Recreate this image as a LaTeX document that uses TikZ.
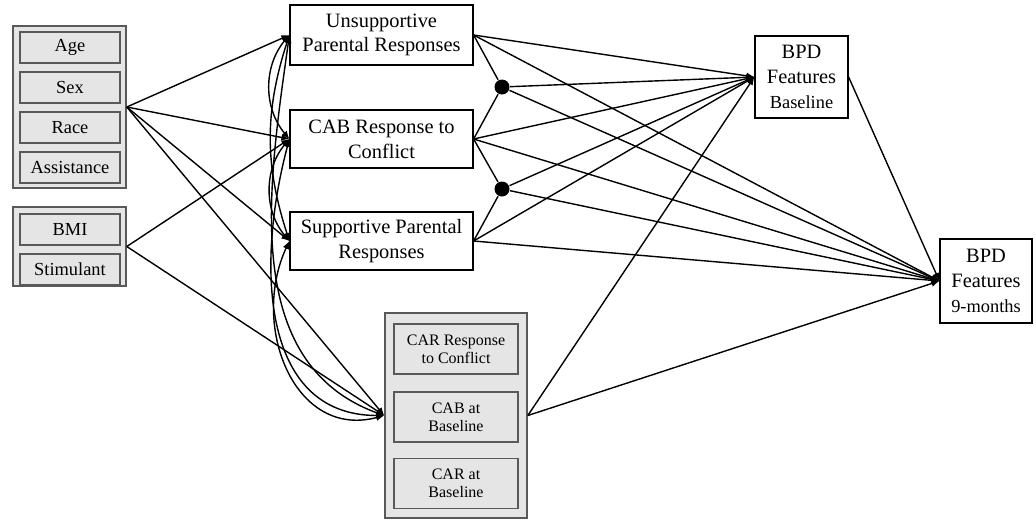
\documentclass[tikz,border=0pt]{standalone}
\usepackage{fontspec}
\setmainfont{Liberation Serif}
\usetikzlibrary{arrows.meta}

\begin{document}
\begin{tikzpicture}[x=0.5pt,y=-0.5pt,>={Latex[length=4pt,width=3.4pt]},line width=0.7pt]
  \tikzstyle{box}=[draw,line width=0.6pt,align=center,inner sep=0pt,font=\fontsize{10.2}{12.4}\selectfont]
  \tikzstyle{grp}=[draw=black!65,fill=gray!20,line width=0.8pt,inner sep=0pt]
  \tikzstyle{item}=[grp,minimum width=50pt,minimum height=15.5pt,align=center,font=\fontsize{9.2}{11}\selectfont]
  \tikzstyle{caritem}=[grp,minimum width=62pt,minimum height=25pt,align=center,font=\fontsize{8}{8.8}\selectfont]
  \tikzstyle{dot}=[circle,fill,inner sep=0pt,minimum size=7.5pt]
  \useasboundingbox (0,0) rectangle (1036,520);
  % covariates
  \node[grp,minimum width=56.5pt,minimum height=81pt] (demo) at (69.5,107) {};
  \node[item] (age) at (70,47.5) {Age};
  \node[item] (sex) at (70,87.5) {Sex};
  \node[item] (race) at (70,127.5) {Race};
  \node[item] (assist) at (70,167.5) {Assistance};
  \node[grp,minimum width=56.5pt,minimum height=39.5pt] (ctrl) at (69.5,246.5) {};
  \node[item] (bmi) at (70,229.5) {BMI};
  \node[item] (stim) at (70,269.5) {Stimulant};
  % mediators
  \node[box,minimum width=91.5pt,minimum height=30pt] (unsup) at (381.5,35) {Unsupportive\\Parental Responses};
  \node[box,minimum width=91.5pt,minimum height=29pt] (cab) at (381.5,139) {CAB Response to\\Conflict};
  \node[box,minimum width=91.5pt,minimum height=29pt] (sup) at (381.5,241) {Supportive Parental\\Responses};
  \node[grp,minimum width=71pt,minimum height=102.5pt] (car) at (456,415.5) {};
  \node[caritem] (carconf) at (456,349) {CAR Response\\to Conflict};
  \node[caritem] (cabbase) at (456,417) {CAB at\\Baseline};
  \node[caritem] (carbase) at (456,483.5) {CAR at\\Baseline};
  % interactions
  \node[dot] (int1) at (502,87) {};
  \node[dot] (int2) at (502,189) {};
  % outcomes
  \node[box,minimum width=46.5pt,minimum height=41pt] (bpd0) at (801.5,77) {BPD\\Features\\{\fontsize{9.2}{11}\selectfont Baseline}};
  \node[box,minimum width=46pt,minimum height=42pt] (bpd9) at (986,281) {BPD\\Features\\{\fontsize{9.2}{11}\selectfont 9-months}};

  \foreach \m in {unsup,cab,sup,car} \draw[->] (demo.east) -- (\m.west);
  \foreach \m in {cab,car} \draw[->] (ctrl.east) -- (\m.west);
  % covariances among mediators
  \draw[<->] (unsup.west) to[bend right=40] (cab.west);
  \draw[<->] (cab.west) to[bend right=40] (sup.west);
  \draw[<->] (unsup.west) to[bend right=18] (sup.west);
  \draw[<->] (unsup.west) to[out=262,in=160] (car.west);
  \draw[<->] (cab.west) to[out=255,in=180,looseness=1.1] (car.west);
  \draw[<->] (sup.west) to[out=245,in=195,looseness=1.2] (car.west);
  % products
  \draw (unsup.east) -- (int1);
  \draw (cab.east) -- (int1);
  \draw (cab.east) -- (int2);
  \draw (sup.east) -- (int2);
  \foreach \s in {unsup,cab,sup,car} {
    \draw[->] (\s.east) -- (bpd0.west);
    \draw[->] (\s.east) -- (bpd9.west);
  }
  \foreach \s in {int1,int2} {
    \draw[->] (\s) -- (bpd0.west);
    \draw[->] (\s) -- (bpd9.west);
  }
  \draw[->] (bpd0.east) -- (bpd9.west);
\end{tikzpicture}
\end{document}
